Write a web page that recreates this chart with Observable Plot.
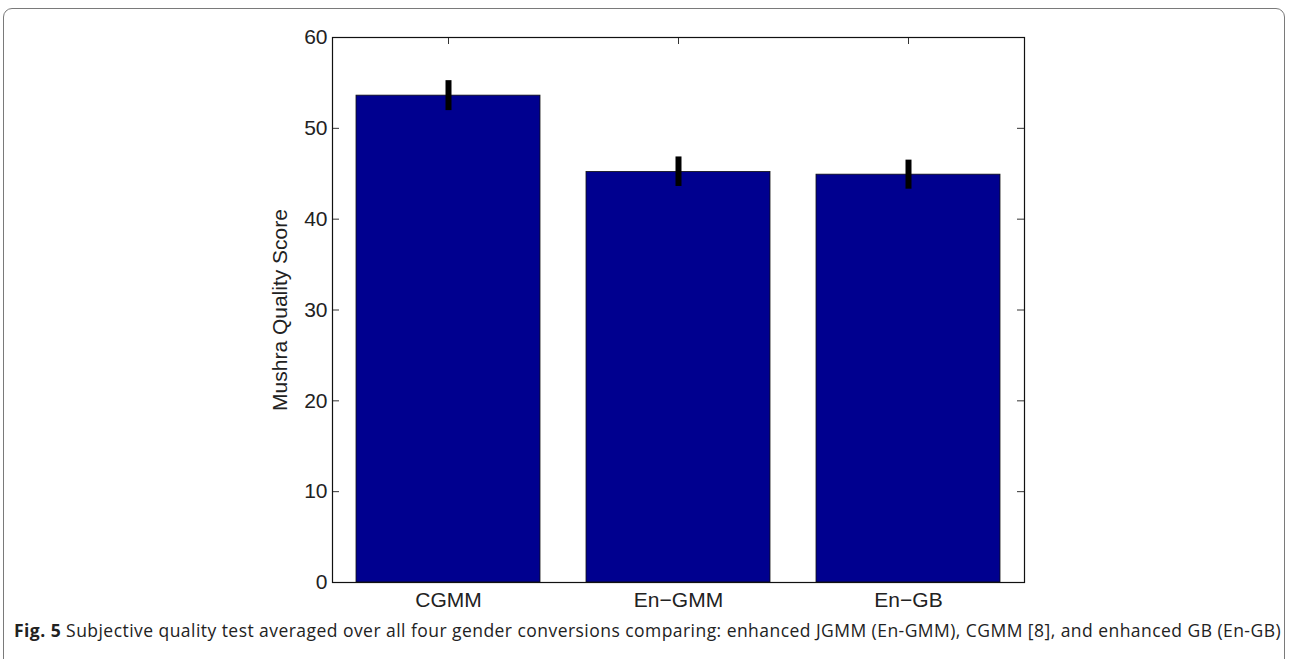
<!DOCTYPE html>
<html>
<head>
<meta charset="utf-8">
<script src="https://cdn.jsdelivr.net/npm/d3@7"></script>
<script src="https://cdn.jsdelivr.net/npm/@observablehq/plot@0.6"></script>
<style>
  html, body { margin: 0; padding: 0; background: #fff; width: 1290px; height: 659px; overflow: hidden; }
  #border { position: absolute; left: 3px; top: 8px; width: 1282px; height: 700px; border: 1.5px solid #7a7a7a; border-radius: 9px; box-sizing: border-box; }
  #chart { position: absolute; left: 0; top: 0; }
  #caption { position: absolute; left: 14px; top: 619px; font-family: "Open Sans", "Noto Sans", sans-serif; font-size: 17.5px; color: #222; white-space: nowrap; line-height: 22px; }
  #caption b { font-weight: 700; }
</style>
</head>
<body>
<div id="border"></div>
<div id="chart"></div>
<div id="caption"><span id="capspan"><b>Fig. 5</b> Subjective quality test averaged over all four gender conversions comparing: enhanced JGMM (En-GMM), CGMM [8], and enhanced GB (En-GB)</span></div>
<script>
const categories = ["CGMM", "En\u2212GMM", "En\u2212GB"];
const scores = [53.6, 45.2, 44.9];
const errLow = [51.95, 43.6, 43.3];
const errHigh = [55.25, 46.85, 46.5];
const yTicks = [0, 10, 20, 30, 40, 50, 60];
const yLabel = "Mushra Quality Score";

const data = categories.map((c, i) => ({cat: c, score: scores[i], lo: errLow[i], hi: errHigh[i]}));

const W = 1290, H = 620;
const mL = 332, mR = W - 1024, mT = 37, mB = H - 582;
const innerW = W - mL - mR, innerH = H - mT - mB;
const tk = 7;

const chart = Plot.plot({
  width: W,
  height: H,
  marginLeft: mL,
  marginRight: mR,
  marginTop: mT,
  marginBottom: mB,
  style: {fontFamily: "'Liberation Sans', Arial, sans-serif", color: "#222", background: "transparent"},
  x: {domain: categories, paddingInner: 0.2, paddingOuter: 0.1},
  y: {domain: [0, 60]},
  marks: [
    Plot.barY(data, {x: "cat", y: "score", fill: "#00008f", stroke: "#111", strokeWidth: 0.8}),
    Plot.ruleX(data, {x: "cat", y1: "lo", y2: "hi", stroke: "#000", strokeWidth: 6}),
    Plot.tickY(yTicks, {y: d => d, insetRight: innerW - tk, stroke: "#333", strokeWidth: 1}),
    Plot.tickY(yTicks, {y: d => d, insetLeft: innerW - tk, stroke: "#333", strokeWidth: 1}),
    Plot.tickX(categories, {x: d => d, insetBottom: innerH - tk, stroke: "#333", strokeWidth: 1}),
    Plot.frame({stroke: "#111", strokeWidth: 1.2}),
    Plot.axisY(yTicks, {tickSize: 0, tickPadding: 5, fontSize: 21, label: null}),
    Plot.axisX({tickSize: 0, tickPadding: 10, fontSize: 21, label: null}),
    Plot.text([yLabel], {frameAnchor: "left", textAnchor: "middle", rotate: -90, dx: -52, fontSize: 21, fill: "#222"})
  ]
});
document.getElementById("chart").appendChild(chart);

// fit caption to target width
const span = document.getElementById("capspan");
const target = 1281 - 14;
const w = span.getBoundingClientRect().width;
const n = span.textContent.length;
span.style.letterSpacing = ((target - w) / n) + "px";
</script>
</body>
</html>
